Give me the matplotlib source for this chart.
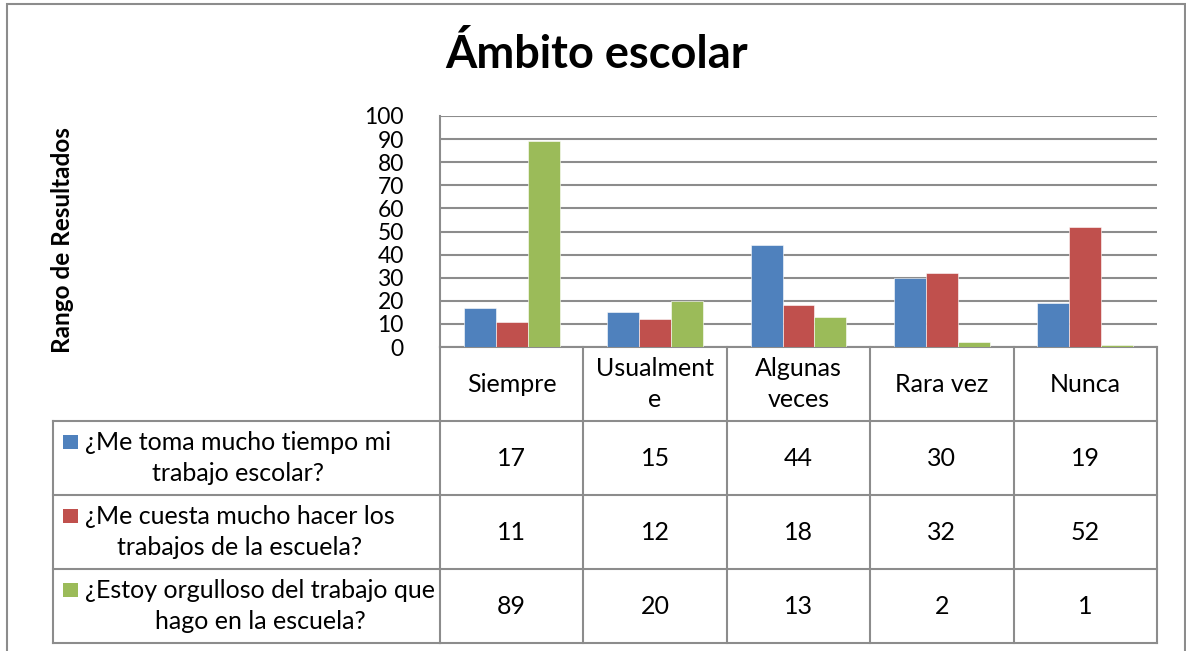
import matplotlib
matplotlib.use("Agg")
import matplotlib.pyplot as plt
import matplotlib.transforms as mtransforms
from matplotlib.lines import Line2D
from matplotlib.patches import Rectangle
import numpy as np

plt.rcParams['font.family'] = ['Lato', 'DejaVu Sans']

# ---- data ----
title = "Ámbito escolar"
ylabel = "Rango de Resultados"
categories = ["Siempre", "Usualment\ne", "Algunas\nveces", "Rara vez", "Nunca"]
series_names = ["¿Me toma mucho tiempo mi\ntrabajo escolar?",
                "¿Me cuesta mucho hacer los\ntrabajos de la escuela?",
                "¿Estoy orgulloso del trabajo que\nhago en la escuela?"]
s1 = [17, 15, 44, 30, 19]
s2 = [11, 12, 18, 32, 52]
s3 = [89, 20, 13, 2, 1]
colors = ["#4F81BD", "#C0504D", "#9BBB59"]
yticks = list(range(0, 101, 10))

W, H = 1186, 651
fig = plt.figure(figsize=(W / 100, H / 100), dpi=100)

def fx(px):
    return px / W

def fy(py):
    return 1 - py / H

GRID = "#8C8C8C"
LW = 1.5
TFS = 18
LS = 1.42

# outer chart border
fig.patches.append(Rectangle((fx(7), fy(700)), fx(1185) - fx(7), fy(4) - fy(700),
                             transform=fig.transFigure, fill=False,
                             edgecolor="#8C8C8C", linewidth=1.5))

# plot area
pl, pr, pt, pb = 440, 1157, 116, 347
ax = fig.add_axes([fx(pl), fy(pb), fx(pr) - fx(pl), fy(pt) - fy(pb)])
x = np.arange(len(categories))
bw = 1 / 4.5
series = [s1, s2, s3]
for i, (vals, c) in enumerate(zip(series, colors)):
    ax.bar(x + (i - 1) * bw, vals, width=bw, color=c, edgecolor="white", linewidth=0.4, zorder=3)

ax.set_xlim(-0.5, len(categories) - 0.5)
ax.set_ylim(0, 100)
ax.set_yticks(yticks)
ax.set_xticks([])
ax.yaxis.grid(True, color=GRID, linewidth=LW, zorder=0)
ax.set_axisbelow(True)
for s in ["top", "right"]:
    ax.spines[s].set_visible(False)
for s in ["left", "bottom"]:
    ax.spines[s].set_color(GRID)
    ax.spines[s].set_linewidth(LW)
ax.tick_params(axis="y", length=0, pad=26, labelsize=16.5)

# title and y label
fig.text(fx(597), fy(55), title, ha="center", va="center", fontsize=32.5, fontweight="bold")
fig.text(fx(62), fy(240), ylabel, ha="center", va="center", rotation=90,
         fontsize=17.5, fontweight="bold")

# ---- data table ----
tr = mtransforms.blended_transform_factory(ax.transData, fig.transFigure)
row_edges = [347, 421, 495, 569, 643]
label_left = 53
n = len(categories)

def hline(x0, x1, y, trans):
    fig.add_artist(Line2D([x0, x1], [fy(y), fy(y)], transform=trans,
                          color=GRID, linewidth=LW, clip_on=False))

def vline(xv, y0, y1, trans):
    fig.add_artist(Line2D([xv, xv], [fy(y0), fy(y1)], transform=trans,
                          color=GRID, linewidth=LW, clip_on=False))

for y in row_edges[1:]:
    hline(-0.5, n - 0.5, y, tr)
    hline(fx(label_left), fx(pl), y, fig.transFigure)
for k in range(n + 1):
    vline(k - 0.5, row_edges[0], row_edges[-1], tr)
vline(fx(label_left), row_edges[1], row_edges[-1], fig.transFigure)

# header
for k, cat in enumerate(categories):
    yc = (row_edges[0] + row_edges[1]) / 2
    fig.text(k, fy(yc), cat, transform=tr, ha="center", va="center",
             fontsize=TFS, linespacing=LS)

# rows
for r, (name, vals, c) in enumerate(zip(series_names, series, colors)):
    yc = (row_edges[r + 1] + row_edges[r + 2]) / 2
    fig.text(fx(85), fy(yc), name, ha="left", va="center", multialignment="center",
             fontsize=TFS, linespacing=LS)
    fig.patches.append(Rectangle((fx(63), fy(yc - 9)), fx(15), fy(0) - fy(14),
                                 transform=fig.transFigure, facecolor=c, edgecolor="none"))
    for k, v in enumerate(vals):
        fig.text(k, fy(yc), str(v), transform=tr, ha="center", va="center", fontsize=TFS)

fig.savefig("out.png", dpi=100, facecolor="white")
